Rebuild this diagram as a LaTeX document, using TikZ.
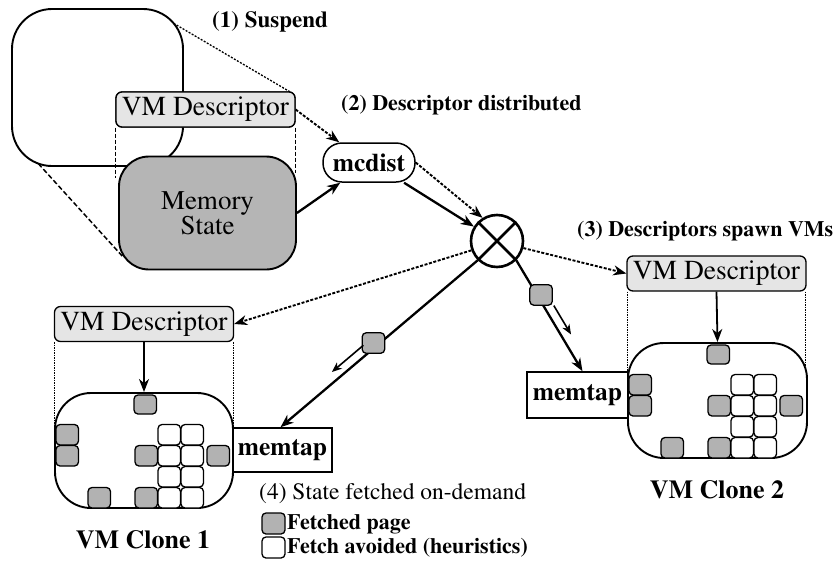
\documentclass[tikz,border=0pt]{standalone}
\usepackage[T1]{fontenc}
\renewcommand\rmdefault{ptm}
\usetikzlibrary{arrows.meta,calc}

% pages inside one VM clone, in coordinates relative to the clone's top-left corner
\newcommand\clonepages{%
  \path[page] (79,2) rectangle ++(22.5,19);
  \path[page] (1,31.5) rectangle ++(22.5,20.5);
  \path[page] (1,52.5) rectangle ++(22.5,20.5);
  \path[page] (33,94.5) rectangle ++(22.5,20.5);
  \path[page] (80,52.5) rectangle ++(22.5,20.5);
  \path[page] (80,94.5) rectangle ++(22.5,20.5);
  \path[page] (152,52.5) rectangle ++(22.5,20.5);
  \foreach \c in {103,126}{%
    \foreach \r in {31.5,52.5,73.5,94.5}{%
      \path[freepage] (\c,\r) rectangle ++(22.5,20.5);}}%
}

\begin{document}
\begin{tikzpicture}[x=1pt,y=-1pt,
  tip/.style={-{Stealth[length=13pt,width=10pt,inset=4pt]}},
  solidarrow/.style={line width=2.3pt,tip},
  downarrow/.style={line width=1.8pt,-{Stealth[length=13pt,width=10pt,inset=4pt]}},
  dotarrow/.style={line width=1.9pt,dash pattern=on 3pt off 1.6pt,tip},
  smallarrow/.style={line width=1.6pt,-{Stealth[length=10pt,width=8pt,inset=3pt]}},
  descbox/.style={draw,line width=1.3pt,rounded corners=6pt,fill=gray!20,
    minimum width=179pt,minimum height=35pt,inner sep=0pt,
    font=\fontsize{27.5}{30}\selectfont},
  clonebox/.style={draw,line width=1.9pt,rounded corners=36pt,fill=white,
    minimum width=178pt,minimum height=115pt,inner sep=0pt},
  tapbox/.style={draw,line width=1.5pt,fill=white,inner sep=0pt,
    font=\bfseries\fontsize{25.5}{28}\selectfont},
  steplabel/.style={anchor=west,inner sep=0pt,font=\bfseries\fontsize{22}{24}\selectfont},
  notelabel/.style={anchor=west,inner sep=0pt,font=\fontsize{23.5}{25}\selectfont},
  legendlabel/.style={anchor=west,inner sep=0pt,font=\bfseries\fontsize{22}{24}\selectfont},
  clonelabel/.style={inner sep=0pt,font=\bfseries\fontsize{26}{28}\selectfont},
  page/.style={draw,line width=1.3pt,rounded corners=4pt,fill=gray!60},
  freepage/.style={draw,line width=1.3pt,rounded corners=4pt,fill=white},
]
\useasboundingbox (0,0) rectangle (839,563);

% ---------- the running VM, magnified into descriptor + memory ----------
\draw[line width=1.9pt,rounded corners=40pt] (12,9) rectangle (183,166);
\coordinate (vmne) at (173.6,23.3);
\coordinate (vmsw) at (38.3,163.6);
\coordinate (descne) at (292,93);
\coordinate (memsw) at (124,258);
\draw[line width=1.3pt,dash pattern=on 2pt off 1.5pt] (vmne) -- (descne);
\draw[line width=1.5pt,dash pattern=on 5pt off 2.5pt] (vmsw) -- (memsw);

\node[descbox] (d0) at (205.5,109.5) {VM Descriptor};
\draw[line width=1.2pt,dash pattern=on 4pt off 2pt] (d0.south west) -- ++(0,50);
\draw[line width=1.2pt,dash pattern=on 4pt off 2pt] (d0.south east) -- ++(0,45);

\node[draw,line width=1.9pt,rounded corners=30pt,fill=gray!58,
      minimum width=177pt,minimum height=113pt,inner sep=0pt,align=center,
      font=\fontsize{27}{23.5}\selectfont] (mem) at (207.5,213) {Memory\\State};
\node[descbox] at (d0) {VM Descriptor};

% ---------- distribution ----------
\node[draw,line width=1.5pt,rounded corners=19pt,fill=white,minimum width=92pt,
      minimum height=39pt,inner sep=0pt,font=\bfseries\fontsize{25.5}{28}\selectfont]
      (mc) at (369,162.5) {mcdist};
\node[circle,draw,line width=2.6pt,minimum size=52pt,inner sep=0pt] (hub) at (497,241) {};
\draw[line width=2.6pt] (hub.45) -- (hub.225) (hub.135) -- (hub.315);

\draw[dotarrow] (d0.east) -- ([xshift=17pt]mc.north west);
\draw[solidarrow] (mem.east) -- ([xshift=18pt]mc.south west);
\draw[dotarrow] (mc.east) -- (hub.122);
\draw[solidarrow] (mc.-30) -- (hub.148);

% ---------- clone 1 ----------
\node[descbox] (d1) at (144,324) {VM Descriptor};
\draw[line width=1pt,dash pattern=on 1.5pt off 1pt] (d1.south west) ++(1,0) -- ++(0,88);
\draw[line width=1pt,dash pattern=on 1.5pt off 1pt] (d1.south east) ++(-1,0) -- ++(0,88);
\node[clonebox] (c1) at (144,450.5) {};
\begin{scope}[shift={(55,393)}]
  \clonepages
\end{scope}
\draw[downarrow] (d1.south) -- (c1.north);
\node[tapbox,minimum width=99pt,minimum height=44pt] (t1) at (282.5,450) {memtap};
\node[clonelabel] (l1) at (143,540) {VM Clone 1};

% ---------- clone 2 ----------
\node[descbox] (d2) at (716.5,273.5) {VM Descriptor};
\draw[line width=1pt,dash pattern=on 1.5pt off 1pt] (d2.south west) ++(1,0) -- ++(0,95);
\draw[line width=1pt,dash pattern=on 1.5pt off 1pt] (d2.south east) ++(-1,0) -- ++(0,95);
\node[clonebox,minimum width=179pt] (c2) at (717.5,400.5) {};
\begin{scope}[shift={(628,343)}]
  \clonepages
\end{scope}
\draw[downarrow] (d2.south) -- (c2.north);
\node[tapbox,minimum width=101pt,minimum height=46pt] (t2) at (577.5,395) {memtap};
\node[clonelabel] (l2) at (717,490) {VM Clone 2};

% ---------- descriptors and pages leaving the hub ----------
\draw[dotarrow] (hub.200) -- (d1.east);
\draw[dotarrow] (hub.-15) -- (d2.west);

\coordinate (tip1) at ([xshift=-2pt]t1.north);
\coordinate (tip2) at ([xshift=5pt]t2.north);
\draw[solidarrow] (hub.225) -- (tip1);
\draw[solidarrow] (hub.-45) -- (tip2);

\coordinate (p1) at ($(hub.225)!0.53!(tip1)$);
\coordinate (p2) at ($(hub.-45)!0.31!(tip2)$);
\path[page] ([shift={(-11,-16)}]p1) rectangle ++(22.5,20.5);
\path[page] ([shift={(-7,-10)}]p2) rectangle ++(22.5,20.5);

\coordinate (a1) at ($(hub.225)!0.55!(tip1)$);
\coordinate (b1) at ($(hub.225)!0.71!(tip1)$);
\draw[smallarrow] ($(a1)!9pt!-90:(tip1)$) -- ($(b1)!9pt!-90:(tip1)$);
\coordinate (a2) at ($(hub.-45)!0.45!(tip2)$);
\coordinate (b2) at ($(hub.-45)!0.71!(tip2)$);
\draw[smallarrow] ($(a2)!9pt!90:(tip2)$) -- ($(b2)!9pt!90:(tip2)$);

% ---------- step labels ----------
\node[steplabel,font=\bfseries\fontsize{23}{25}\selectfont] (s1) at (212,22) {(1) Suspend};
\node[steplabel] (s2) at (341,105) {(2) Descriptor distributed};
\node[steplabel] (s3) at (577,231) {(3) Descriptors spawn VMs};
\node[notelabel] (s4) at (259,494) {(4) State fetched on-demand};

% ---------- legend ----------
\path[page] (262,513) rectangle (285,534);
\path[freepage] (262,537) rectangle (285,558);
\node[legendlabel] (k1) at (287,524) {Fetched page};
\node[legendlabel] (k2) at (287,548) {Fetch avoided (heuristics)};
\end{tikzpicture}
\end{document}
